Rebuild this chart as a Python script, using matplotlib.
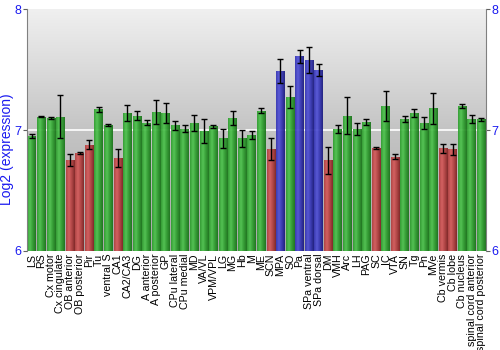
import numpy as np
import matplotlib
matplotlib.use("Agg")
import matplotlib.pyplot as plt
from matplotlib.colors import LinearSegmentedColormap

plt.rcParams["font.family"] = ["Liberation Sans", "DejaVu Sans"]

regions = ["LS", "RS", "Cx motor", "Cx cingulate", "OB anterior", "OB posterior",
           "Pir", "Tu", "ventral S", "CA1", "CA2/CA3", "DG", "A anterior",
           "A posterior", "GP", "CPu lateral", "CPu medial", "MD", "VA/VL",
           "VPM/VPL", "LG", "MG", "Hb", "M", "ME", "SCN", "MPA", "SO", "Pa",
           "SPa ventral", "SPa dorsal", "DM", "VMH", "Arc", "LH", "PAG", "SC",
           "IC", "VTA", "SN", "Tg", "Pn", "MVe", "Cb vermis", "Cb lobe",
           "Cb nucleus", "spinal cord anterior", "spinal cord posterior"]

expr = [6.95, 7.11, 7.10, 7.11, 6.75, 6.81, 6.88, 7.17, 7.04, 6.77,
        7.14, 7.12, 7.06, 7.15, 7.14, 7.04, 7.01, 7.06, 6.99, 7.03,
        6.93, 7.10, 6.93, 6.96, 7.16, 6.84, 7.49, 7.27, 7.61, 7.58,
        7.50, 6.75, 7.01, 7.12, 7.01, 7.07, 6.85, 7.20, 6.78, 7.09,
        7.14, 7.06, 7.18, 6.85, 6.84, 7.20, 7.09, 7.09]

err = [0.02, 0.005, 0.005, 0.18, 0.05, 0.005, 0.036, 0.018, 0.007, 0.077,
       0.068, 0.04, 0.02, 0.10, 0.085, 0.037, 0.028, 0.065, 0.10, 0.012,
       0.08, 0.06, 0.07, 0.032, 0.02, 0.09, 0.10, 0.09, 0.055, 0.105,
       0.05, 0.113, 0.035, 0.157, 0.05, 0.025, 0.01, 0.125, 0.023, 0.023,
       0.033, 0.05, 0.128, 0.037, 0.048, 0.015, 0.032, 0.012]

# g = green, r = red, b = blue
groups = ["g", "g", "g", "g", "r", "r", "r", "g", "g", "r",
          "g", "g", "g", "g", "g", "g", "g", "g", "g", "g",
          "g", "g", "g", "g", "g", "r", "b", "g", "b", "b",
          "b", "r", "g", "g", "g", "g", "r", "g", "r", "g",
          "g", "g", "g", "r", "r", "g", "g", "g"]

BAR_COLORS = {
    "g": ("#4cc44c", "#2a9a2a", "#157015"),
    "r": ("#d65a5a", "#b03c3c", "#7c1e1e"),
    "b": ("#5050d8", "#3030b0", "#16167a"),
}
BLUE = "#1a1af0"

fig = plt.figure(figsize=(5, 3.5), dpi=100, facecolor="white")
ax = fig.add_axes([0.054, 0.283, 0.918, 0.691])

x = np.arange(len(regions))
ax.set_xlim(-0.5, len(regions) - 0.5)
ax.set_ylim(6, 8)

# gray vertical gradient background
bg = LinearSegmentedColormap.from_list("bg", ["#a8a8a8", "#c4c4c4", "#f0f0f0"])
ax.imshow(np.linspace(0, 1, 256).reshape(-1, 1), cmap=bg, origin="lower",
          extent=[-0.5, len(regions) - 0.5, 6, 8], aspect="auto", zorder=0)
ax.axhline(7, color="white", linewidth=1.2, zorder=1)

bars = ax.bar(x, np.array(expr) - 6, bottom=6, width=0.9, color="none",
              edgecolor="none", zorder=2)
grad = np.linspace(0, 1, 64).reshape(1, -1)
for bar, g in zip(bars, groups):
    light, mid, dark = BAR_COLORS[g]
    cm = LinearSegmentedColormap.from_list(g, [mid, light, mid, dark])
    x0, y0 = bar.get_x(), bar.get_y()
    im = ax.imshow(grad, cmap=cm, extent=[x0, x0 + bar.get_width(), y0, y0 + bar.get_height()],
                   aspect="auto", zorder=2, alpha=0.92)
    im.set_clip_path(bar)

ax.errorbar(x, expr, yerr=err, fmt="none", ecolor="black", elinewidth=1,
            capsize=2, capthick=1, zorder=3)

ax.set_xticks(x)
ax.set_xticklabels(regions, rotation=90, fontsize=7.7, color="black")
ax.tick_params(axis="x", length=0, pad=2)
ax.set_yticks([6, 7, 8])
ax.tick_params(axis="y", colors="#606060", labelcolor=BLUE, labelsize=9,
               length=3, right=True, labelright=True, pad=1)
fig.text(0.015, 0.574, "Log2 (expression)", color=BLUE, fontsize=10,
         rotation=90, ha="center", va="center")

for spine in ["top", "bottom"]:
    ax.spines[spine].set_visible(False)
for spine in ["left", "right"]:
    ax.spines[spine].set_color("#808080")

fig.savefig("out.png", dpi=100, facecolor="white")
